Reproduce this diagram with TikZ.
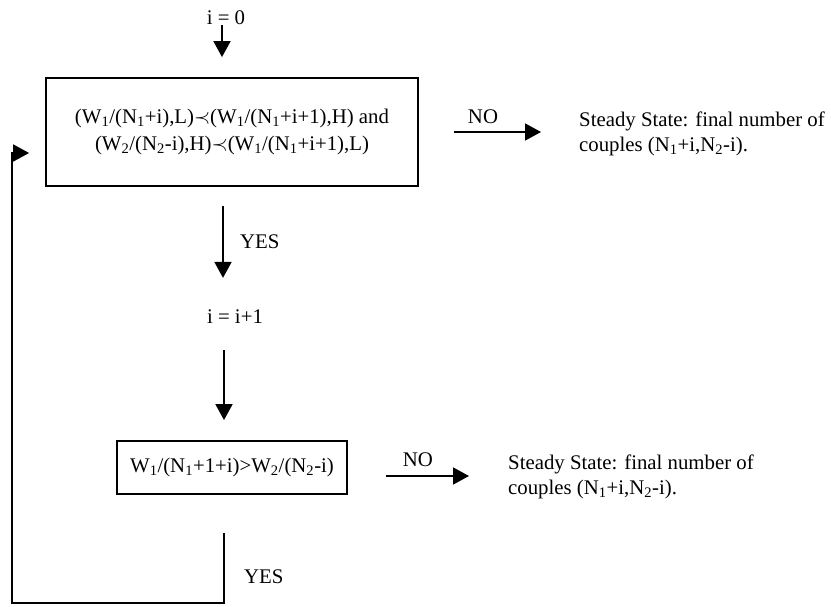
\documentclass[tikz,border=0pt]{standalone}
\usepackage{fontspec}
\setmainfont{Liberation Serif}
\usetikzlibrary{arrows.meta,positioning}

\tikzset{
  arr/.style={line width=1.8pt, -{Triangle[length=16pt,width=17pt]}},
  cbox/.style={draw, line width=1.8pt, align=center, inner sep=0pt},
  txt/.style={inner sep=0pt, align=left},
}
\newcommand{\sbs}[1]{\textsubscript{#1}}

\begin{document}
\begin{tikzpicture}[x=1pt, y=-1pt, font=\fontsize{20.8}{25}\selectfont]
  \useasboundingbox (0,0) rectangle (831,607);
  % nodes
  \node[txt] (init) at (226,18) {i = 0};
  \node[cbox, minimum width=372pt, minimum height=108pt,
        font=\fontsize{20.8}{27}\selectfont] (cond1) at (232,132)
    {(W\sbs{1}/(N\sbs{1}+i),L)$\prec$(W\sbs{1}/(N\sbs{1}+i+1),H) and\\
     (W\sbs{2}/(N\sbs{2}-i),H)$\prec$(W\sbs{1}/(N\sbs{1}+i+1),L)};
  \node[txt, anchor=west] (steady1) at (579,134)
    {Steady State: final number of\\ couples (N\sbs{1}+i,N\sbs{2}-i).};
  \node[txt] (no1) at (483,117) {NO};
  \node[txt, anchor=west] (yes1) at (240,242) {YES};
  \node[txt] (inc) at (235,317) {i = i+1};
  \node[cbox, minimum width=230pt, minimum height=53pt] (cond2) at (232,467.5)
    {W\sbs{1}/(N\sbs{1}+1+i)>W\sbs{2}/(N\sbs{2}-i)};
  \node[txt, anchor=west] (steady2) at (508,477)
    {Steady State: final number of\\ couples (N\sbs{1}+i,N\sbs{2}-i).};
  \node[txt] (no2) at (418,460) {NO};
  \node[txt, anchor=west] (yes2) at (244,577) {YES};
  % connectors
  \draw[arr, shorten >=20pt] ([xshift=-4pt]init.south) -- ([xshift=-4pt]init.south |- cond1.north);
  \draw[arr, shorten <=35pt, shorten >=38pt] (cond1.east) -- (cond1.east -| steady1.west);
  \draw[arr] ([xshift=-9pt,yshift=-19pt]cond1.south) -- ++(0,72);
  \draw[arr] ([xshift=-11pt,yshift=-26pt]inc.south) -- ++(0,70);
  \draw[arr, shorten <=38pt, shorten >=39pt] ([yshift=-8.5pt]cond2.east) -- ([yshift=-8.5pt]cond2.east -| steady2.west);
  \draw[arr] ([xshift=-8pt,yshift=-38pt]cond2.south) -- ++(0,70) -- ++(-212,0)
    |- ([xshift=-16pt,yshift=-21pt]cond1.west);
\end{tikzpicture}
\end{document}
